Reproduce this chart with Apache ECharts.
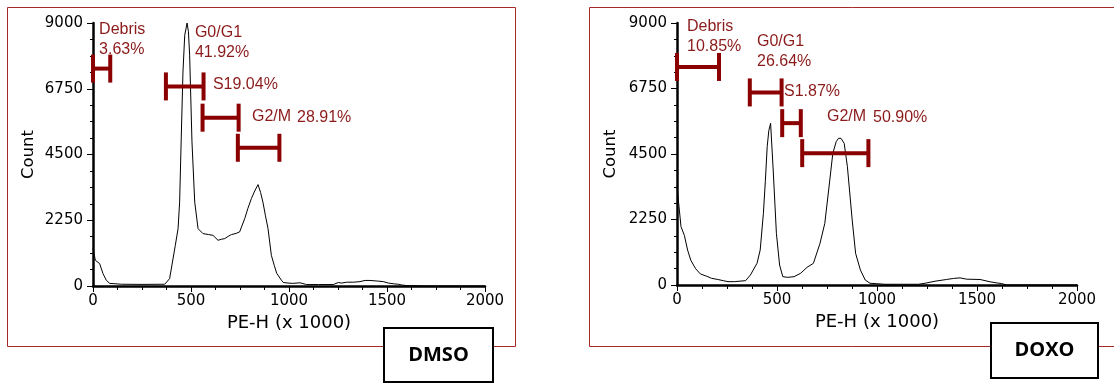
<!DOCTYPE html>
<html>
<head>
<meta charset="utf-8">
<script src="https://cdn.jsdelivr.net/npm/echarts@6/dist/echarts.min.js"></script>
<style>
html,body{margin:0;padding:0;background:#fff;}
#chart{width:1114px;height:383px;}
</style>
</head>
<body>
<div id="chart"></div>
<script>
// ---------- DATA ----------
const xTicks = [0, 500, 1000, 1500, 2000];
const yTicks = [0, 2250, 4500, 6750, 9000];

// DMSO histogram (PE-H x1000, count)
const dmsoX = [0, 12, 34, 51, 68, 85, 145, 250, 366, 391, 420, 434, 442, 450, 459, 468, 480, 487, 493, 505, 519, 536, 561, 590, 612, 638, 655, 672, 690, 706, 730, 748, 774, 790, 808, 825, 842, 855, 867, 880, 893, 910, 925, 937, 961, 971, 995, 1020, 1056, 1090, 1150, 1226, 1252, 1269, 1294, 1330, 1362, 1388, 1413, 1450, 1481, 1507, 1540, 1558, 1575, 1600, 1700, 2000];
const dmsoY = [1280, 880, 766, 424, 195, 90, 60, 55, 60, 253, 1393, 1963, 2870, 5000, 7320, 8580, 9000, 8700, 7900, 4930, 2870, 1963, 1793, 1760, 1735, 1564, 1600, 1622, 1700, 1759, 1800, 1850, 2306, 2650, 2990, 3250, 3470, 3200, 2870, 2400, 1963, 1050, 700, 440, 200, 120, 100, 90, 110, 50, 50, 50, 120, 100, 130, 130, 150, 190, 190, 170, 150, 100, 70, 60, 35, 15, 0, 0];

// DOXO histogram
const doxoX = [0, 5, 20, 37, 53, 69, 93, 117, 149, 173, 204, 231, 255, 287, 343, 367, 400, 416, 432, 442, 451, 459, 468, 481, 497, 513, 529, 553, 585, 618, 650, 682, 715, 739, 764, 779, 796, 808, 820, 836, 852, 876, 893, 917, 941, 965, 1040, 1100, 1165, 1207, 1215, 1240, 1290, 1348, 1382, 1415, 1448, 1515, 1565, 1600, 1623, 1648, 2000];
const doxoY = [3380, 3035, 2004, 1700, 1200, 850, 560, 380, 300, 229, 190, 149, 115, 115, 149, 343, 744, 1202, 2462, 3600, 4752, 5300, 5554, 3950, 1775, 687, 286, 263, 286, 401, 607, 744, 1431, 2118, 3607, 4523, 4924, 5040, 5038, 4866, 4065, 2233, 1088, 515, 172, 60, 25, 25, 25, 25, 70, 60, 130, 190, 225, 245, 200, 190, 110, 70, 50, 0, 0];

// Gates: [start, end, level]
const dmsoGates = [[0, 88, 7440], [372, 564, 6830], [559, 743, 5760], [739, 951, 4730]];
const doxoGates = [[0, 210, 7490], [364, 523, 6615], [526, 619, 5560], [626, 957, 4530]];

// Gate annotations: [x, y, text]
const dmsoLabels = [[31, 8440, 'Debris\n3.63%'], [520, 8340, 'G0/G1\n41.92%'], [612, 6900, 'S19.04%'], [811, 5810, 'G2/M'], [1041, 5770, '28.91%']];
const doxoLabels = [[50, 8520, 'Debris\n10.85%'], [400, 8020, 'G0/G1\n26.64%'], [535, 6630, 'S1.87%'], [750, 5770, 'G2/M'], [980, 5735, '50.90%']];

const panelNames = ['DMSO', 'DOXO'];
const xName = 'PE-H (x 1000)';
const yName = 'Count';

// ---------- CHART ----------
const GATE = '#8b0000';
const LABEL = '#8b1a1a';
const tickFont = 'DejaVu Sans';

function zip(a, b) { return a.map((v, i) => [v, b[i]]); }

function xAxis(gi) {
  return {
    gridIndex: gi, type: 'value', min: xTicks[0], max: xTicks[xTicks.length - 1], interval: xTicks[1] - xTicks[0],
    name: xName, nameLocation: 'middle', nameGap: 26,
    nameTextStyle: { fontFamily: tickFont, fontSize: 18, color: '#000' },
    axisLine: { show: true, onZero: false, lineStyle: { color: '#000', width: 2.5 } },
    axisTick: { show: true, length: 6, lineStyle: { color: '#000', width: 1 } },
    minorTick: { show: true, splitNumber: 4, length: 4, lineStyle: { color: '#000', width: 1 } },
    axisLabel: { fontFamily: tickFont, fontSize: 15, color: '#000', margin: 8, showMaxLabel: true, showMinLabel: true, formatter: v => String(v) },
    splitLine: { show: false }
  };
}
function yAxis(gi, gap) {
  return {
    gridIndex: gi, type: 'value', min: yTicks[0], max: yTicks[yTicks.length - 1], interval: yTicks[1] - yTicks[0],
    name: yName, nameLocation: 'middle', nameGap: gap, nameRotate: 90,
    nameTextStyle: { fontFamily: tickFont, fontSize: 16.5, color: '#000' },
    axisLine: { show: true, onZero: false, lineStyle: { color: '#000', width: 2.5 } },
    axisTick: { show: true, length: 6, lineStyle: { color: '#000', width: 1 } },
    minorTick: { show: true, splitNumber: 4, length: 3, lineStyle: { color: '#000', width: 1 } },
    axisLabel: { fontFamily: tickFont, fontSize: 15, color: '#000', margin: 10, formatter: v => String(v) },
    splitLine: { show: false }
  };
}

function gateSeries(gi, data) {
  return {
    type: 'custom', xAxisIndex: gi, yAxisIndex: gi, silent: true, z: 5,
    data: data,
    renderItem: function (params, api) {
      const p0 = api.coord([api.value(0), api.value(2)]);
      const p1 = api.coord([api.value(1), api.value(2)]);
      const h = 14;
      const st = { stroke: GATE, lineWidth: 4 };
      return {
        type: 'group',
        children: [
          { type: 'line', shape: { x1: p0[0], y1: p0[1], x2: p1[0], y2: p1[1] }, style: st },
          { type: 'line', shape: { x1: p0[0], y1: p0[1] - h, x2: p0[0], y2: p0[1] + h }, style: st },
          { type: 'line', shape: { x1: p1[0], y1: p1[1] - h, x2: p1[0], y2: p1[1] + h }, style: st }
        ]
      };
    }
  };
}

function labelSeries(gi, data) {
  return {
    type: 'custom', xAxisIndex: gi, yAxisIndex: gi, silent: true, z: 6,
    data: data.map(d => [d[0], d[1]]),
    renderItem: function (params, api) {
      const d = data[params.dataIndex];
      const p = api.coord([d[0], d[1]]);
      return {
        type: 'text', x: p[0], y: p[1],
        style: { text: d[2], fill: LABEL, font: '16px "Liberation Sans", Arial, sans-serif', align: 'left', verticalAlign: 'middle', lineHeight: 20 }
      };
    }
  };
}

function histSeries(gi, xs, ys) {
  return {
    type: 'line', xAxisIndex: gi, yAxisIndex: gi, data: zip(xs, ys),
    showSymbol: false, symbol: 'none', silent: true, z: 3,
    lineStyle: { color: '#000', width: 1 }
  };
}

const chart = echarts.init(document.getElementById('chart'), null, { renderer: 'canvas' });
chart.setOption({
  animation: false,
  backgroundColor: '#fff',
  grid: [
    { left: 93, top: 23, width: 392, height: 263 },
    { left: 677, top: 23, width: 400, height: 262 }
  ],
  xAxis: [xAxis(0), xAxis(1)],
  yAxis: [yAxis(0, 56), yAxis(1, 58)],
  series: [
    histSeries(0, dmsoX, dmsoY),
    histSeries(1, doxoX, doxoY),
    gateSeries(0, dmsoGates),
    gateSeries(1, doxoGates),
    labelSeries(0, dmsoLabels),
    labelSeries(1, doxoLabels)
  ],
  graphic: [
    { type: 'rect', z: 0, silent: true, shape: { x: 7.5, y: 7.5, width: 508, height: 339 }, style: { fill: 'none', stroke: '#a52a2a', lineWidth: 1 } },
    { type: 'rect', z: 0, silent: true, shape: { x: 589.5, y: 7.5, width: 600, height: 339 }, style: { fill: 'none', stroke: '#a52a2a', lineWidth: 1 } },
    { type: 'group', z: 10, children: [
      { type: 'rect', shape: { x: 384, y: 328, width: 109, height: 54 }, style: { fill: '#fff', stroke: '#000', lineWidth: 2 } },
      { type: 'text', x: 438.5, y: 355, style: { text: panelNames[0], font: 'bold 20px "Open Sans", sans-serif', fill: '#000', align: 'center', verticalAlign: 'middle' } }
    ] },
    { type: 'group', z: 10, children: [
      { type: 'rect', shape: { x: 991, y: 323, width: 107, height: 55 }, style: { fill: '#fff', stroke: '#000', lineWidth: 2 } },
      { type: 'text', x: 1044.5, y: 350, style: { text: panelNames[1], font: 'bold 20px "Open Sans", sans-serif', fill: '#000', align: 'center', verticalAlign: 'middle' } }
    ] }
  ]
});
</script>
</body>
</html>
